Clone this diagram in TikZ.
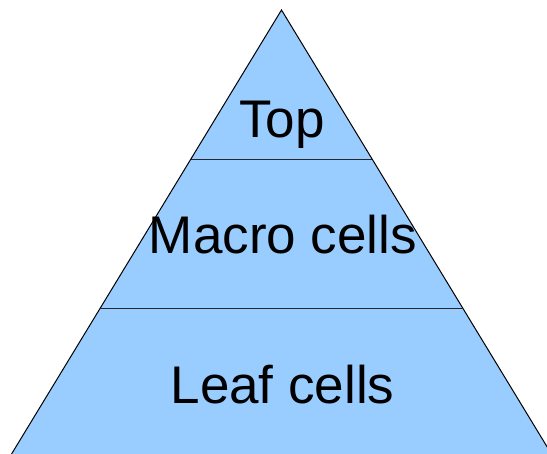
\documentclass[tikz,border=0pt]{standalone}
\usepackage{fontspec}
\setmainfont{Liberation Sans}
\begin{document}
\begin{tikzpicture}[x=1pt,y=1pt,
  layer/.style={anchor=base,font=\fontsize{53}{60}\selectfont,text=black,inner sep=0pt},
  divider/.style={draw=black!85,line width=1pt}]
\useasboundingbox (0,0) rectangle (547,454);
\begin{scope}
\clip (0,0) rectangle (547,454);
% pyramid body
\coordinate (apex) at (281.5,444);
\coordinate (bl) at (-0.6,-20);
\coordinate (br) at (563.6,-20);
\filldraw[fill={rgb,255:red,153;green,204;blue,255},draw=black,line width=1pt,line join=miter]
  (apex) -- (br) -- (bl) -- cycle;
% dividers between levels
\coordinate (d1l) at ({281.5-0.608*149.3},294.7);
\coordinate (d1r) at ({281.5+0.608*149.3},294.7);
\coordinate (d2l) at ({281.5-0.608*298.3},145.7);
\coordinate (d2r) at ({281.5+0.608*298.3},145.7);
\draw[divider] (d1l) -- (d1r);
\draw[divider] (d2l) -- (d2r);
\end{scope}
% level labels
\node[layer] (top) at (282,316.3) {Top};
\node[layer] (macro) at (283,200.7) {Macro cells};
\node[layer] (leaf) at (282.5,50.7) {Leaf cells};
\end{tikzpicture}
\end{document}
